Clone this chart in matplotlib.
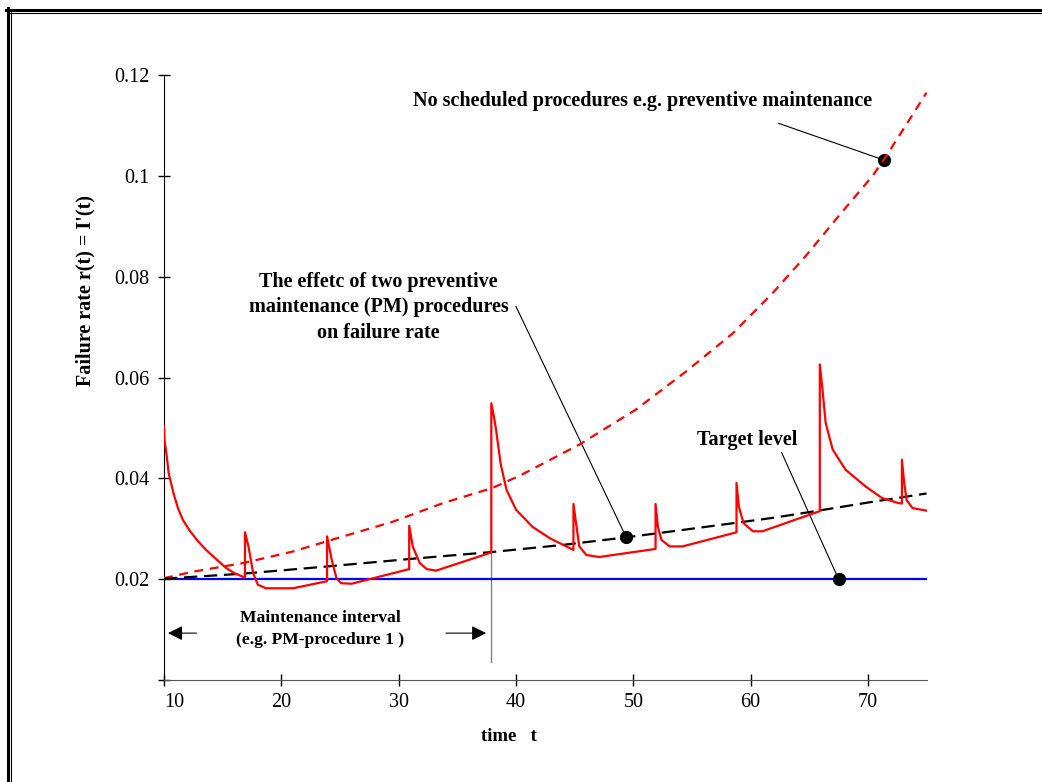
import matplotlib
matplotlib.use("Agg")
import matplotlib.pyplot as plt
from matplotlib.lines import Line2D
from matplotlib.ticker import FuncFormatter

plt.rcParams['font.family'] = ['Liberation Serif', 'DejaVu Serif']

# failure rate without any scheduled maintenance (red dashed)
t_nopm = [10, 12.5, 16.75, 21, 25.3, 29.5, 33.8, 38, 40.3, 45.4, 50.2, 54.5,
          58.5, 61.9, 64.7, 67.5, 70.4, 71.5, 73.2, 75]
r_nopm = [0.0202, 0.0215, 0.0232, 0.0255, 0.0285, 0.0314, 0.0351, 0.0381,
          0.0405, 0.0467, 0.0536, 0.0612, 0.0688, 0.0768, 0.0841, 0.0920,
          0.1000, 0.1037, 0.1099, 0.1165]

# mean trend with PM (black dashed)
t_avg = [10, 16.75, 23.8, 30.9, 38, 44, 49.4, 54, 58.5, 62, 65.8, 70, 75]
r_avg = [0.0201, 0.0211, 0.0225, 0.0240, 0.0254, 0.0268, 0.0283, 0.0297,
         0.0311, 0.0322, 0.0336, 0.0352, 0.0370]

# target level
t_target = [10, 75]
r_target = [0.02, 0.02]

# failure rate with PM procedures (red sawtooth)
t_pm = [10, 10.05, 10.2, 10.4, 10.8, 11.2, 11.6, 12.2, 12.8, 13.5, 14.2, 15.3, 16.0, 16.9,
        16.9, 17.2, 17.6, 18.0, 18.7, 21.0, 23.9,
        23.9, 24.3, 24.7, 25.1, 26.0, 30.9,
        30.9, 31.2, 31.8, 32.4, 33.2, 37.9,
        37.9, 38.1, 38.3, 38.7, 39.2, 40.0, 41.4, 42.9, 44.3, 44.9,
        44.9, 45.2, 45.4, 46.0, 47.1, 51.9,
        51.9, 52.1, 52.4, 53.1, 54.2, 58.8,
        58.8, 59.0, 59.4, 60.2, 61.0, 65.9,
        65.9, 66.1, 66.4, 67.0, 68.1, 69.8, 71.2, 72.6, 72.9,
        72.9, 73.1, 73.3, 73.8, 75.0]
r_pm = [0.0503, 0.0475, 0.0450, 0.0410, 0.0371, 0.0340, 0.0318, 0.0296, 0.0278, 0.0260,
        0.0245, 0.0222, 0.0212, 0.0203,
        0.0293, 0.0265, 0.0212, 0.0189, 0.0182, 0.0182, 0.0196,
        0.0285, 0.0238, 0.0202, 0.0192, 0.0191, 0.0220,
        0.0306, 0.0265, 0.0232, 0.0220, 0.0217, 0.0253,
        0.0549, 0.0525, 0.0497, 0.0428, 0.0377, 0.0338, 0.0304, 0.0281, 0.0265, 0.0258,
        0.0349, 0.0298, 0.0265, 0.0248, 0.0244, 0.0260,
        0.0349, 0.0304, 0.0278, 0.0265, 0.0265, 0.0293,
        0.0391, 0.0344, 0.0311, 0.0295, 0.0295, 0.0335,
        0.0626, 0.0583, 0.0510, 0.0457, 0.0417, 0.0384, 0.0361, 0.0351, 0.0350,
        0.0437, 0.0390, 0.0357, 0.0341, 0.0336]

x_ticks = [10, 20, 30, 40, 50, 60, 70]
y_ticks = [0, 0.02, 0.04, 0.06, 0.08, 0.1, 0.12]

fig = plt.figure(figsize=(10.42, 7.82), dpi=100)
ax = fig.add_axes([0.1574, 0.1304, 0.7318, 0.7737])

# interval marker at the big PM
ax.plot([37.9, 37.9], [0.0035, 0.0253], color='#808080', lw=1.0, zorder=1)

ax.plot(t_target, r_target, color='#0000ff', lw=1.6, zorder=2)
ax.plot(t_nopm, r_nopm, color='#ff0000', lw=1.6, dashes=(4, 3), zorder=3)
ax.plot(t_avg, r_avg, color='black', lw=1.6, dashes=(6, 3), zorder=3)
ax.plot(t_pm, r_pm, color='#ff0000', lw=1.6, zorder=4)

ax.set_xlim(10, 75)
ax.set_ylim(0, 0.12)
ax.set_xticks(x_ticks)
ax.set_yticks(y_ticks)
ax.yaxis.set_major_formatter(FuncFormatter(lambda v, p: '' if v == 0 else f'{v:g}'))
ax.tick_params(direction='inout', length=9, width=1, labelsize=14.5, pad=6)
ax.tick_params(axis='x', pad=5)
ax.get_xticklabels()[0].set_horizontalalignment('left')
for s in ['top', 'right']:
    ax.spines[s].set_visible(False)
ax.spines['bottom'].set_color('#555555')
ax.spines['left'].set_color('black')

ax.text(0.452, -0.093, 'time   t', transform=ax.transAxes, ha='center', va='center',
        fontsize=13.5, fontweight='bold')
ax.text(-0.1035, 0.643, "Failure rate r(t) = I'(t)", transform=ax.transAxes,
        ha='center', va='center', rotation=90, fontsize=14.5, fontweight='bold')

# annotations
bold = dict(fontsize=14.5, fontweight='bold', ha='center', va='center')
ax.text(50.8, 0.1148, 'No scheduled procedures e.g. preventive maintenance', **bold)
ax.plot([62.4, 71.4], [0.1104, 0.1031], color='black', lw=0.8)
ax.plot([71.4], [0.1031], 'o', color='black', ms=8.5)

ax.text(28.3, 0.0739, 'The effetc of two preventive\nmaintenance (PM) procedures\non failure rate',
        linespacing=1.35, **bold)
ax.plot([40.0, 49.4], [0.0741, 0.0283], color='black', lw=0.8)
ax.plot([49.4], [0.0283], 'o', color='black', ms=8.5)

ax.text(59.7, 0.0477, 'Target level', **bold)
ax.plot([62.65, 67.5], [0.0451, 0.0200], color='black', lw=0.8)
ax.plot([67.5], [0.0200], 'o', color='black', ms=8.5)

ax.text(23.3, 0.0101, 'Maintenance interval\n(e.g. PM-procedure 1 )', fontsize=12.6,
        fontweight='bold', ha='center', va='center', linespacing=1.45)
arrow = dict(arrowstyle='-|>', color='black', lw=0.8, mutation_scale=22)
ax.annotate('', xy=(10.1, 0.0093), xytext=(13.0, 0.0093), arrowprops=arrow)
ax.annotate('', xy=(37.7, 0.0093), xytext=(33.8, 0.0093), arrowprops=arrow)

# double frame (left and top edges)
W, H = 1042, 782
fig.add_artist(Line2D([6 / W, 1], [1 - 9.5 / H] * 2, transform=fig.transFigure, color='black', lw=2.2))
fig.add_artist(Line2D([7.5 / W] * 2, [0, 1 - 8 / H], transform=fig.transFigure, color='black', lw=2.2))
fig.add_artist(Line2D([10 / W, 1], [1 - 12.5 / H] * 2, transform=fig.transFigure, color='black', lw=0.8))
fig.add_artist(Line2D([10.5 / W] * 2, [0, 1 - 12 / H], transform=fig.transFigure, color='black', lw=0.8))

fig.savefig('out.png', dpi=100)
